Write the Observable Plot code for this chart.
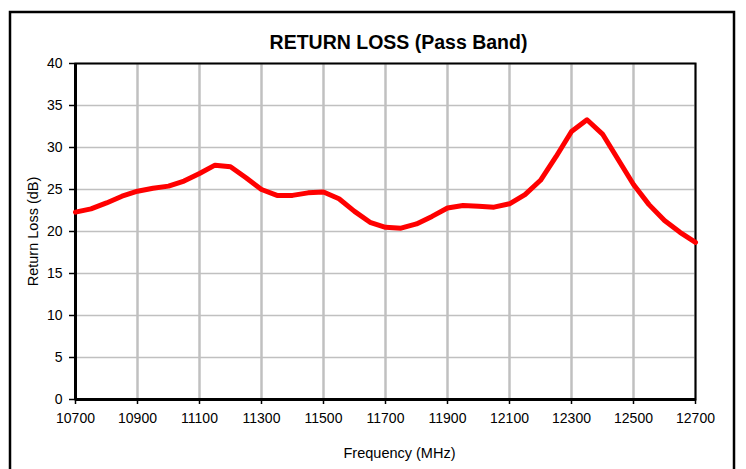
<!DOCTYPE html>
<html>
<head>
<meta charset="utf-8">
<script src="https://cdn.jsdelivr.net/npm/d3@7"></script>
<script src="https://cdn.jsdelivr.net/npm/@observablehq/plot@0.6"></script>
<style>
  html, body { margin: 0; padding: 0; background: #fff; }
  #chart { position: relative; width: 746px; height: 469px; overflow: hidden; }
</style>
</head>
<body>
<div id="chart"></div>
<script>
const titleText = "RETURN LOSS (Pass Band)";
const xLabel = "Frequency (MHz)";
const yLabel = "Return Loss (dB)";

const frequency = [10700, 10750, 10800, 10850, 10900, 10950, 11000, 11050, 11100, 11150,
                   11200, 11250, 11300, 11350, 11400, 11450, 11500, 11550, 11600, 11650,
                   11700, 11750, 11800, 11850, 11900, 11950, 12000, 12050, 12100, 12150,
                   12200, 12250, 12300, 12350, 12400, 12450, 12500, 12550, 12600, 12650,
                   12700];
const returnLoss = [22.3, 22.7, 23.4, 24.2, 24.8, 25.15, 25.4, 26.0, 26.9, 27.9,
                    27.7, 26.4, 25.0, 24.3, 24.3, 24.6, 24.7, 23.9, 22.4, 21.1,
                    20.5, 20.4, 20.9, 21.8, 22.8, 23.1, 23.0, 22.9, 23.3, 24.4,
                    26.1, 28.9, 31.9, 33.3, 31.6, 28.6, 25.6, 23.2, 21.3, 19.9,
                    18.7];
const xTicks = [10700, 10900, 11100, 11300, 11500, 11700, 11900, 12100, 12300, 12500, 12700];
const yTicks = [0, 5, 10, 15, 20, 25, 30, 35, 40];

const data = frequency.map((f, i) => ({f, rl: returnLoss[i]}));

const plot = Plot.plot({
  width: 746,
  height: 469,
  marginLeft: 75,
  marginRight: 51,
  marginTop: 63,
  marginBottom: 70,
  style: {fontFamily: "'Liberation Sans', Arial, sans-serif", fontSize: "14px", color: "#000", background: "#fff"},
  x: {domain: [10700, 12700], ticks: xTicks},
  y: {domain: [0, 40], ticks: yTicks},
  marks: [
    Plot.gridY(yTicks, {stroke: "#c0c0c0", strokeOpacity: 1, strokeWidth: 1.5}),
    Plot.gridX(xTicks, {stroke: "#c0c0c0", strokeOpacity: 1, strokeWidth: 2.5}),
    Plot.frame({stroke: "#000", strokeWidth: 2}),
    Plot.ruleX([10700], {stroke: "#000", strokeWidth: 3}),
    Plot.ruleY([0], {stroke: "#000", strokeWidth: 3}),
    Plot.axisY(yTicks, {anchor: "left", label: null, tickSize: 6, tickPadding: 7, stroke: "#000", strokeWidth: 1.5, fontSize: 14}),
    Plot.axisX(xTicks, {anchor: "bottom", label: null, tickSize: 5, tickPadding: 9, stroke: "#000", strokeWidth: 1.5, fontSize: 14, tickFormat: d => String(d)}),
    Plot.line(data, {x: "f", y: "rl", stroke: "#ff0000", strokeWidth: 5, strokeLinejoin: "round"}),
    Plot.text([titleText], {frameAnchor: "top", dx: 13, dy: -21, fontWeight: "bold", fontSize: 19.5, lineAnchor: "middle", fill: "#000"}),
    Plot.text([xLabel], {frameAnchor: "bottom", dx: 14, dy: 54, fontSize: 14.5, lineAnchor: "middle", fill: "#000"}),
    Plot.text([yLabel], {frameAnchor: "left", dx: -42, rotate: -90, fontSize: 14.5, lineAnchor: "middle", textAnchor: "middle", fill: "#000"})
  ]
});

d3.select(plot).append("rect")
  .attr("x", 10).attr("y", 12).attr("width", 724).attr("height", 480)
  .attr("fill", "none").attr("stroke", "#000").attr("stroke-width", 2.5);

document.getElementById("chart").appendChild(plot);
</script>
</body>
</html>
